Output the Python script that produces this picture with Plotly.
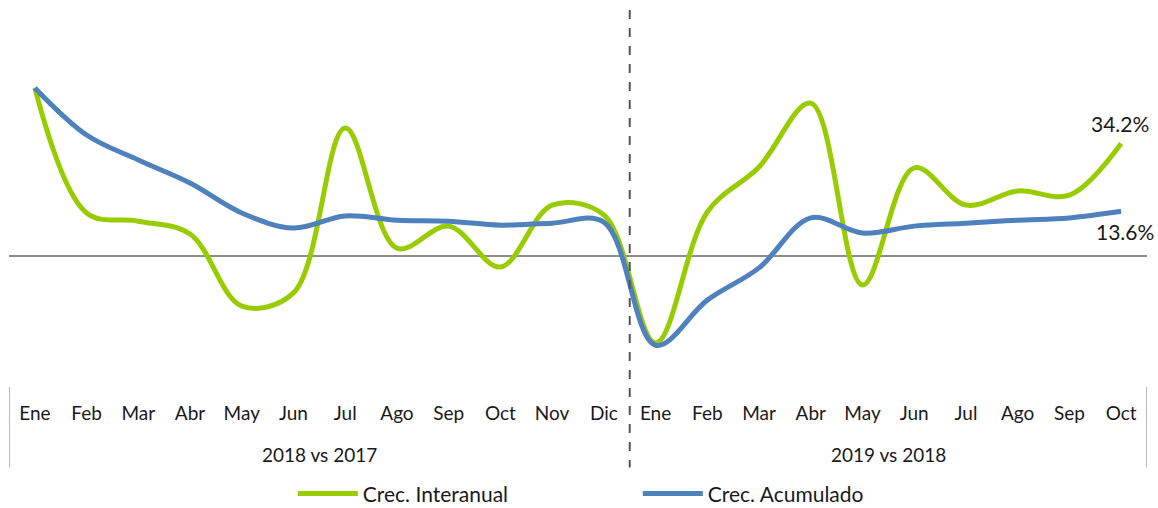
import plotly.graph_objects as go

months_2018 = ["Ene", "Feb", "Mar", "Abr", "May", "Jun", "Jul", "Ago", "Sep", "Oct", "Nov", "Dic"]
months_2019 = ["Ene", "Feb", "Mar", "Abr", "May", "Jun", "Jul", "Ago", "Sep", "Oct"]
groups = ["2018 vs 2017", "2019 vs 2018"]

crec_interanual = [51.1, 13.1, 10.6, 6.7, -15.2, -11.2, 38.9, 2.4, 9.1, -3.3, 15.5, 12.5,
                   -26.4, 13.4, 27.1, 46.5, -8.8, 26.8, 15.5, 19.8, 18.5, 34.2]
crec_acumulado = [51.1, 36.8, 29.2, 22.2, 13.1, 8.5, 12.2, 10.9, 10.6, 9.4, 10.0, 10.3,
                  -27.1, -13.4, -3.6, 11.6, 7.0, 9.1, 10.0, 10.9, 11.6, 13.6]

labels = months_2018 + months_2019
x = list(range(len(labels)))

FONT = "Lato"
TXT = "#1a1a1a"
GREEN = "#99CC00"
BLUE = "#4F81BD"

fig = go.Figure()
fig.add_trace(go.Scatter(x=x, y=crec_interanual, mode="lines", name="Crec. Interanual",
                         line=dict(color=GREEN, width=5, shape="spline", smoothing=1.0)))
fig.add_trace(go.Scatter(x=x, y=crec_acumulado, mode="lines", name="Crec. Acumulado",
                         line=dict(color=BLUE, width=5, shape="spline", smoothing=1.0)))

n1 = len(months_2018)
n = len(labels)
split = n1 - 0.5

# dashed separator between the two periods
fig.add_shape(type="line", xref="x", yref="paper", x0=split, x1=split, y0=1.0, y1=-0.22,
              line=dict(color="#555555", width=2, dash="dash"))
# category group separators
for xv in [-0.5, n - 0.5]:
    fig.add_shape(type="line", xref="x", yref="paper", x0=xv, x1=xv, y0=-0.005, y1=-0.22,
                  line=dict(color="#a0a0a0", width=1.5))

# group labels
centers = [(n1 - 1) / 2, n1 + (len(months_2019) - 1) / 2]
for g, c in zip(groups, centers):
    fig.add_annotation(x=c, y=-0.184, xref="x", yref="paper", text=g, showarrow=False,
                       font=dict(family=FONT, size=19, color=TXT), yanchor="middle")

# end labels
fig.add_annotation(x=x[-1], y=crec_interanual[-1], text=f"{crec_interanual[-1]:.1f}%",
                   showarrow=False, yshift=20, xshift=-1,
                   font=dict(family=FONT, size=21, color=TXT))
fig.add_annotation(x=x[-1], y=crec_acumulado[-1], text=f"{crec_acumulado[-1]:.1f}%",
                   showarrow=False, yshift=-20, xshift=4,
                   font=dict(family=FONT, size=21, color=TXT))

fig.update_layout(
    width=1158, height=508,
    margin=dict(l=9, r=11, t=10, b=123, autoexpand=False),
    plot_bgcolor="white", paper_bgcolor="white",
    font=dict(family=FONT, color=TXT),
    xaxis=dict(range=[-0.5, n - 0.5], tickvals=x, ticktext=labels, showgrid=False,
               zeroline=False, showline=False, ticks="", ticklabelstandoff=15,
               tickfont=dict(family=FONT, size=19, color=TXT), fixedrange=True,
               automargin=False),
    yaxis=dict(range=[-39.2, 74.8], showgrid=False, showticklabels=False, ticks="",
               zeroline=True, zerolinecolor="#8c8c8c", zerolinewidth=2, showline=False,
               fixedrange=True, automargin=False),
    legend=dict(orientation="h", x=0.2494, y=-0.29, xanchor="left", yanchor="middle",
                entrywidth=270, entrywidthmode="pixels", itemwidth=60,
                font=dict(family=FONT, size=21, color=TXT)),
    showlegend=True,
)

fig.write_html("out.html", config={"displayModeBar": False},
               post_script="document.body.style.margin='0';")
